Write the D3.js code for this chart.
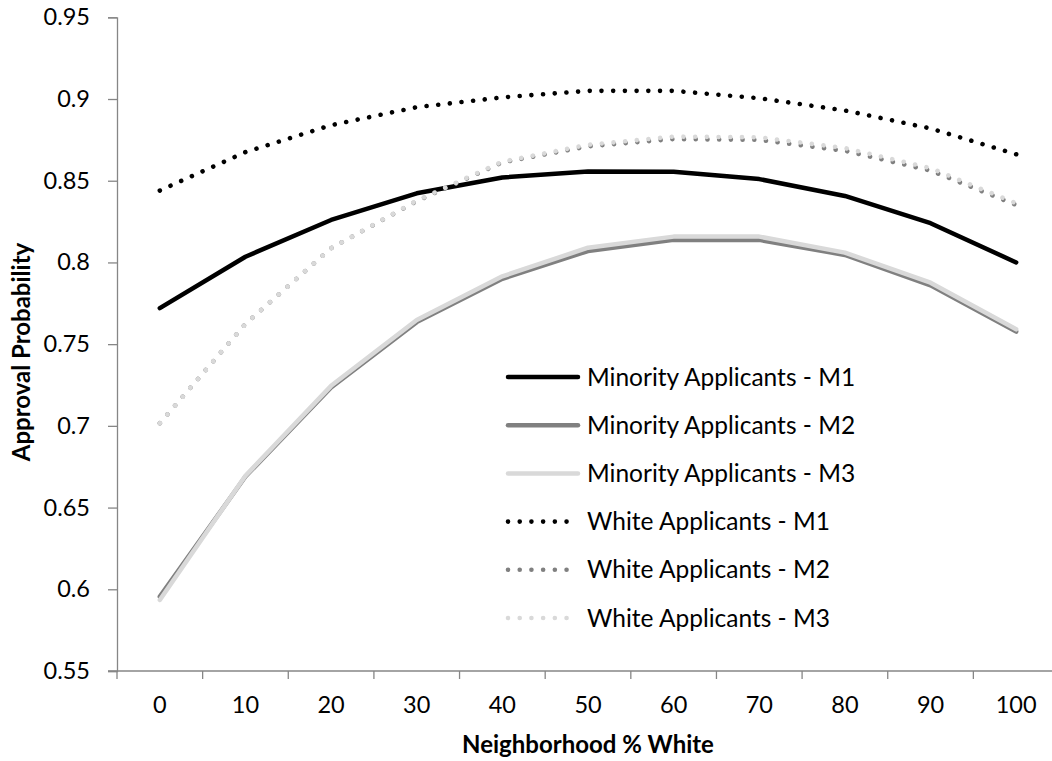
<!DOCTYPE html>
<html>
<head>
<meta charset="utf-8">
<script src="https://cdn.jsdelivr.net/npm/d3@7"></script>
<style>
  html, body { margin: 0; padding: 0; background: #fff; }
  svg { display: block; font-family: Lato, "Open Sans", sans-serif; }
</style>
</head>
<body>
<svg id="chart" width="1052" height="761"></svg>
<script>
const categories = [0, 10, 20, 30, 40, 50, 60, 70, 80, 90, 100];
const minorityM1 = [0.772, 0.8035, 0.826, 0.8423, 0.852, 0.8556, 0.8555, 0.851, 0.8407, 0.824, 0.800];
const minorityM2 = [0.5955, 0.669, 0.7235, 0.7635, 0.790, 0.807, 0.8138, 0.8138, 0.8046, 0.786, 0.7577];
const minorityM3 = [0.5935, 0.6695, 0.7245, 0.7648, 0.7915, 0.809, 0.8158, 0.8158, 0.806, 0.7876, 0.7591];
const whiteM1 = [0.844, 0.8675, 0.884, 0.895, 0.901, 0.905, 0.905, 0.9005, 0.893, 0.882, 0.8662];
const whiteM2 = [0.7016, 0.7624, 0.8087, 0.8375, 0.8612, 0.871, 0.8755, 0.875, 0.8683, 0.8562, 0.8352];
const whiteM3 = [0.7016, 0.7624, 0.8087, 0.8378, 0.8617, 0.872, 0.877, 0.8766, 0.870, 0.8577, 0.8362];
const yTicks = [0.55, 0.6, 0.65, 0.7, 0.75, 0.8, 0.85, 0.9, 0.95];
const seriesNames = ["Minority Applicants - M1", "Minority Applicants - M2", "Minority Applicants - M3",
                     "White Applicants - M1", "White Applicants - M2", "White Applicants - M3"];

const series = [
  { name: seriesNames[0], values: minorityM1, color: "#000000", dotted: false },
  { name: seriesNames[1], values: minorityM2, color: "#808080", dotted: false },
  { name: seriesNames[2], values: minorityM3, color: "#d9d9d9", dotted: false },
  { name: seriesNames[3], values: whiteM1, color: "#000000", dotted: true },
  { name: seriesNames[4], values: whiteM2, color: "#808080", dotted: true },
  { name: seriesNames[5], values: whiteM3, color: "#d9d9d9", dotted: true }
];

const svg = d3.select("#chart");
const axisColor = "#868686";
const plotLeft = 117, plotRight = 1059, plotTop = 17.3, plotBottom = 671;
const tickFont = "23.5px";

const x = d3.scaleBand().domain(categories).range([plotLeft, plotRight]).padding(0);
const y = d3.scaleLinear().domain([0.55, 0.95]).range([plotBottom, plotTop]);

// Y axis
const yAxis = svg.append("g").attr("transform", `translate(${plotLeft},0)`)
  .call(d3.axisLeft(y).tickValues(yTicks).tickSize(9).tickPadding(18)
        .tickFormat(d => String(+d.toFixed(2))));
yAxis.select(".domain").attr("stroke", axisColor).attr("stroke-width", 1.3);
yAxis.selectAll(".tick line").attr("stroke", axisColor).attr("stroke-width", 1.3);
yAxis.selectAll(".tick text").attr("fill", "#000").style("font-size", tickFont)
  .style("font-family", "Lato, 'Open Sans', sans-serif");

// X axis
const xAxis = svg.append("g").attr("transform", `translate(0,${plotBottom})`)
  .call(d3.axisBottom(x).tickSize(0).tickPadding(25));
xAxis.select(".domain").remove();
xAxis.selectAll(".tick text").attr("fill", "#000").style("font-size", tickFont)
  .style("font-family", "Lato, 'Open Sans', sans-serif");
xAxis.append("line").attr("x1", plotLeft - 9).attr("x2", plotRight).attr("y1", 0).attr("y2", 0)
  .attr("stroke", axisColor).attr("stroke-width", 1.3);
xAxis.selectAll(".btick").data(categories).enter().append("line")
  .attr("x1", d => x(d)).attr("x2", d => x(d)).attr("y1", 0).attr("y2", 8)
  .attr("stroke", axisColor).attr("stroke-width", 1.3);

// Lines
const line = d3.line().x((d, i) => x(categories[i]) + x.bandwidth() / 2).y(d => y(d));
series.forEach(s => {
  const p = svg.append("path").datum(s.values).attr("d", line)
    .attr("fill", "none").attr("stroke", s.color)
    .attr("stroke-width", s.dotted ? 4.6 : 4.5)
    .attr("stroke-linecap", "round").attr("stroke-linejoin", "round");
  if (s.dotted) p.attr("stroke-dasharray", "0.01 11.7");
});

// Legend
const lg = svg.append("g");
series.forEach((s, i) => {
  const yy = 377 + i * 48.2;
  const l = lg.append("line").attr("x1", 508).attr("x2", s.dotted ? 575 : 578)
    .attr("y1", yy).attr("y2", yy).attr("stroke", s.color)
    .attr("stroke-width", s.dotted ? 4.6 : 4.5).attr("stroke-linecap", "round");
  if (s.dotted) l.attr("stroke-dasharray", "0.01 11.7");
  lg.append("text").attr("x", 587).attr("y", yy).attr("dy", "0.35em")
    .style("font-size", "24.5px").attr("fill", "#000").text(s.name);
});

// Axis titles
svg.append("text").attr("x", 588).attr("y", 745).attr("dy", "0.35em").attr("text-anchor", "middle")
  .style("font-size", "24px").style("font-weight", "bold").text("Neighborhood % White");
svg.append("text").attr("transform", "translate(22,352) rotate(-90)").attr("dy", "0.35em")
  .attr("text-anchor", "middle")
  .style("font-size", "24px").style("font-weight", "bold").text("Approval Probability");
</script>
</body>
</html>
